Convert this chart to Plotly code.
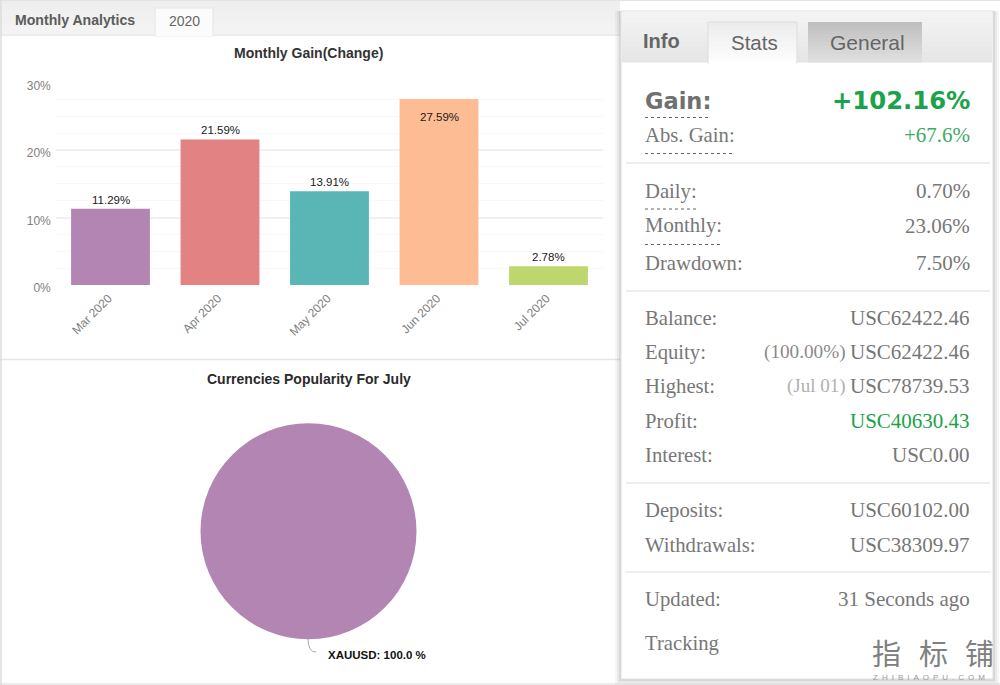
import plotly.graph_objects as go

W, H = 1000, 685
SANS = "Liberation Sans"
SERIF = "Liberation Serif"
GREEN = "#1aa34a"
GREY = "#777777"

months = ["Mar 2020", "Apr 2020", "May 2020", "Jun 2020", "Jul 2020"]
gains = [11.29, 21.59, 13.91, 27.59, 2.78]
bar_colors = ["#b385b3", "#e28282", "#5ab5b5", "#febc94", "#bdd76e"]
label_shift = [9, 9, 9, -18, 9]

stats = [
    ("Daily:", 191, "0.70%", GREY),
    ("Monthly:", 226, "23.06%", GREY),
    ("Drawdown:", 263, "7.50%", GREY),
    ("Balance:", 318, "USC62422.46", GREY),
    ("Equity:", 352, "USC62422.46", GREY),
    ("Highest:", 386, "USC78739.53", GREY),
    ("Profit:", 421, "USC40630.43", GREEN),
    ("Interest:", 455, "USC0.00", GREY),
    ("Deposits:", 510, "USC60102.00", GREY),
    ("Withdrawals:", 545, "USC38309.97", GREY),
    ("Updated:", 599, "31 Seconds ago", GREY),
    ("Tracking", 643, "", GREY),
]
shapes = []
notes = []


def rect(x0, y0, x1, y1, fill, line=None, opacity=1.0, layer="below"):
    shapes.append(dict(
        type="rect", xref="paper", yref="paper", layer=layer, opacity=opacity,
        x0=x0 / W, x1=x1 / W, y0=1 - y0 / H, y1=1 - y1 / H, fillcolor=fill,
        line=dict(color=line, width=1) if line else dict(width=0),
    ))


def hline(x0, x1, y, color="#e8e8e8", width=1.5, dash="solid"):
    shapes.append(dict(
        type="line", xref="paper", yref="paper", layer="below",
        x0=x0 / W, x1=x1 / W, y0=1 - y / H, y1=1 - y / H,
        line=dict(color=color, width=width, dash=dash),
    ))


def text(x, y, s, size=20.7, color=GREY, family=SERIF, anchor="left"):
    notes.append(dict(
        xref="paper", yref="paper", x=x / W, y=1 - y / H, text=s, showarrow=False,
        xanchor=anchor, yanchor="middle", borderpad=0, borderwidth=0,
        font=dict(size=size, color=color, family=family),
    ))


def grad(x0, y0, x1, y1, top, bottom, steps=10):
    # vertical gradient faked with thin strips
    for n in range(steps):
        c = [round(a + (b - a) * n / (steps - 1)) for a, b in zip(top, bottom)]
        ya = y0 + (y1 - y0) * n / steps
        yb = y0 + (y1 - y0) * (n + 1) / steps
        rect(x0, ya, x1, yb + 0.5, f"rgb({c[0]},{c[1]},{c[2]})")


# left card
grad(0, 1, 620, 35, (238, 238, 238), (244, 244, 244))
hline(0, 620, 35, "#e2e2e2", 1)
hline(0, 620, 359.5, "#e6e6e6", 1.5)
hline(0, 1000, 0.5, "#e4e4e4", 1)
hline(0, 1000, 684, "#e4e4e4", 1.5)
shapes.append(dict(type="line", xref="paper", yref="paper", layer="below", x0=0.001, x1=0.001,
                   y0=0, y1=1, line=dict(color="#dddddd", width=1.5)))
rect(155, 8, 213, 36, "#fbfbfb", "#e6e6e6")
hline(155.5, 212.5, 35.5, "#fbfbfb", 2)
text(15, 20, "<b>Monthly Analytics</b>", 14.1, "#5c5c5c", SANS)
text(184, 21, "2020", 14, "#666666", SANS, "center")
text(308.5, 53, "<b>Monthly Gain(Change)</b>", 14, "#333333", SANS, "center")
text(308.5, 379, "<b>Currencies Popularity For July</b>", 14, "#2a2a2a", SANS, "center")

# right card with a soft shadow
for n, grow in enumerate([6, 4, 2]):
    rect(621 - grow, 11, 993 + grow, 679 + grow, "#555555", opacity=0.05 + n * 0.03)
rect(621, 11, 993, 679, "#ffffff", "#dcdcdc")
grad(622, 12, 992, 62, (243, 243, 243), (230, 230, 230))
grad(708, 22, 797, 63, (236, 236, 236), (253, 253, 253))
grad(808, 22, 922, 62, (192, 192, 192), (222, 222, 222))
rect(708, 22, 797, 63, "rgba(0,0,0,0)", "#dddddd")
hline(709, 796, 63, "#ffffff", 2)
text(661, 41, "<b>Info</b>", 20, "#666666", SANS, "center")
text(754, 43, "Stats", 20.5, "#666666", SANS, "center")
text(867, 43, "General", 21, "#666666", SANS, "center")

text(645, 101, "<b>Gain:</b>", 22.5, "#707070", "DejaVu Sans")
text(970, 101, "<b>+102.16%</b>", 24.3, GREEN, "DejaVu Sans", "right")
hline(645, 711, 117.5, "#666666", 1.2, "dot")
text(645, 135, "Abs. Gain:")
text(970, 135, "+67.6%", 21, "#3eaa66", SERIF, "right")
hline(645, 735, 153.5, "#666666", 1.2, "dot")

for y in [163, 291, 483, 572]:
    hline(626, 990, y)
for name, y, value, color in stats:
    text(645, y, name)
    if value:
        text(970, y, value, 21, color, SERIF, "right")
text(846, 352, "(100.00%)", 19.2, "#8a8a8a", SERIF, "right")
text(846, 386, "(Jul 01)", 19, "#b0b0b0", SERIF, "right")
hline(645, 697, 209, "#666666", 1.2, "dot")
hline(645, 723, 244.5, "#666666", 1.2, "dot")

# watermark
text(886, 652, "指", 29, "#808080", "Noto Sans CJK SC", "center")
text(933, 652, "标", 29, "#808080", "Noto Sans CJK SC", "center")
text(979, 652, "铺", 29, "#808080", "Noto Sans CJK SC", "center")
text(929, 677, "\u2002".join("ZHIBIAOPU.COM"), 8, "#9a9a9a", SANS, "center")

# pie label and its leader
text(328, 655, "<b>XAUUSD: 100.0 %</b>", 11.5, "#111111", SANS)
shapes.append(dict(type="path", xref="paper", yref="paper", layer="above",
                   path=f"M {308 / W} {1 - 639 / H} Q {308 / W} {1 - 652 / H} {316 / W} {1 - 652 / H}",
                   line=dict(color="#aaaaaa", width=1)))

fig = go.Figure()
fig.add_trace(go.Bar(
    x=months, y=gains, marker=dict(color=bar_colors, line=dict(width=0)),
    width=0.72, hoverinfo="x+y", showlegend=False,
))
for month, gain, shift in zip(months, gains, label_shift):
    fig.add_annotation(x=month, y=gain, xref="x", yref="y", text=f"{gain:.2f}%", showarrow=False,
                       yshift=shift, yanchor="middle", font=dict(size=11.5, color="#1a1a1a", family=SANS))
fig.add_trace(go.Pie(
    labels=["XAUUSD"], values=[100.0], marker=dict(colors=["#b385b3"], line=dict(width=0)),
    textinfo="none", sort=False, showlegend=False,
    domain=dict(x=[200.5 / W, 416.5 / W], y=[1 - 639.5 / H, 1 - 423 / H]),
))

fig.update_layout(
    width=W, height=H, margin=dict(l=0, r=0, t=0, b=0, autoexpand=False), autosize=False,
    paper_bgcolor="white", plot_bgcolor="rgba(0,0,0,0)", bargap=0.28,
    shapes=shapes, annotations=list(fig.layout.annotations) + notes,
    xaxis=dict(domain=[55.75 / W, 603.25 / W], anchor="y", tickangle=-45, showgrid=False, zeroline=False,
               ticks="", showline=False, ticklabelstandoff=3, ticklabelshift=-2,
               tickfont=dict(size=12, color="#808080", family=SANS)),
    yaxis=dict(domain=[1 - 285 / H, 1 - 82.7 / H], anchor="x", range=[0, 30], tick0=0, dtick=10,
               ticksuffix="%", gridcolor="#f0f0f0", gridwidth=1.5, zeroline=False,
               ticklabelshift=3, ticklabelstandoff=4, tickfont=dict(size=12, color="#808080", family=SANS),
               minor=dict(dtick=2.5, showgrid=True, gridcolor="#f8f8f8", gridwidth=1)),
)
# default body margin pushes the fixed-size plot off the window
fig.write_html("out.html", config={"displayModeBar": False},
               post_script="document.body.style.margin = '0';")
